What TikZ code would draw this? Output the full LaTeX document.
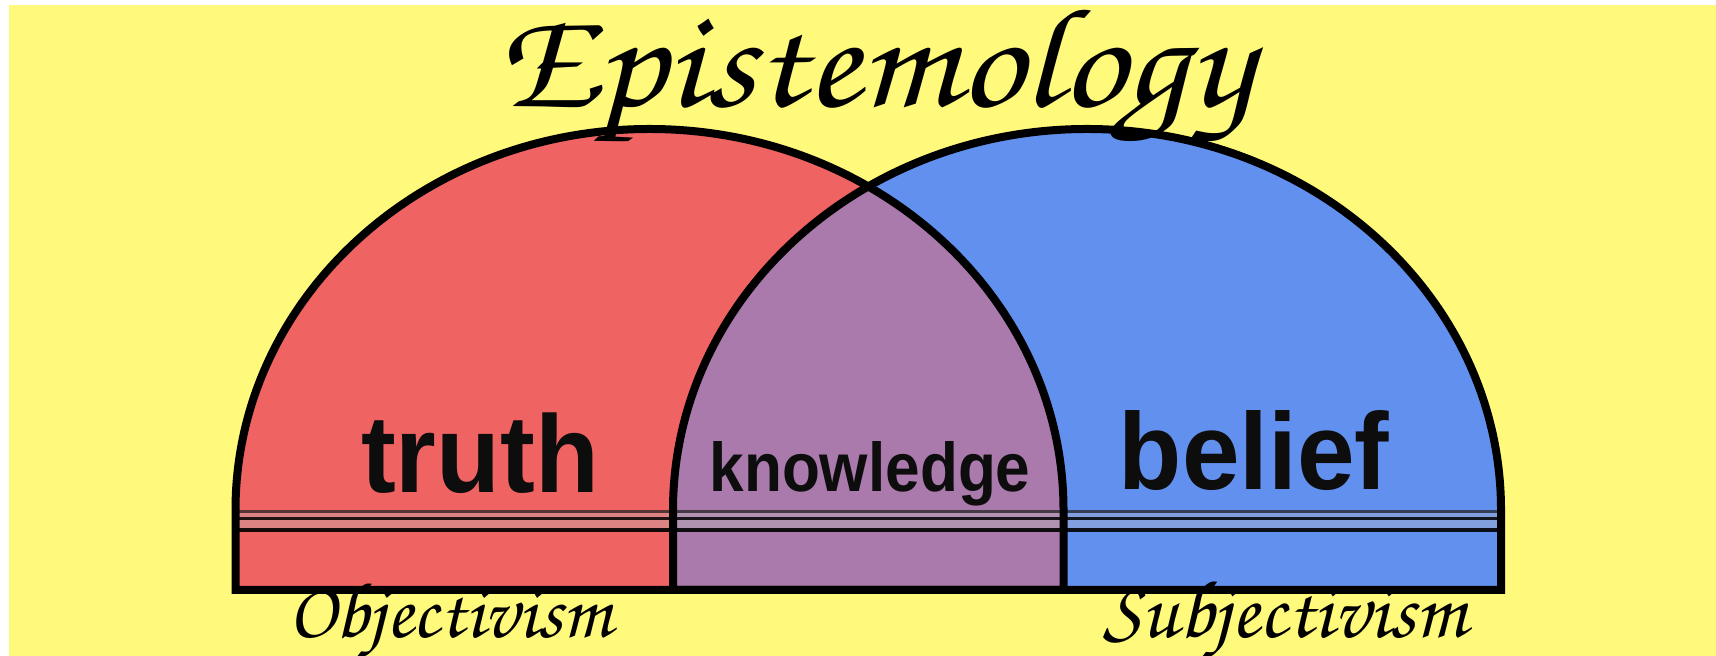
\documentclass[tikz,border=0pt]{standalone}
\usepackage[T1]{fontenc}
\usepackage{fontspec}
\newfontfamily\sansb{Liberation Sans}
\newcommand\scriptf{\fontencoding{T1}\fontfamily{pzc}\fontseries{mb}\fontshape{it}\selectfont}
\definecolor{bgy}{HTML}{FFF97C}
\definecolor{redf}{HTML}{F06363}
\definecolor{purf}{HTML}{A97AAB}
\definecolor{bluf}{HTML}{6290EE}
\begin{document}
\begin{tikzpicture}[x=0.5pt,y=0.5pt,
  outline/.style={line width=4pt,line join=miter,draw=black},
  word/.style={inner sep=0pt,anchor=base,text=black!95},
  scr/.style={inner sep=0pt,anchor=base,text=black}]
\useasboundingbox (0,0) rectangle (1716,656);
\fill[white] (0,0) rectangle (1716,656);
\fill[bgy] (9,0) rectangle (1716,651);
\def\leftarch{(235.5,66) -- (235.5,146) arc[start angle=180,end angle=0,x radius=414,y radius=381] -- (1063.5,66) -- cycle}
\def\rightarch{(673,66) -- (673,146) arc[start angle=180,end angle=0,x radius=414,y radius=381] -- (1501,66) -- cycle}
% fills
\fill[redf] \leftarch;
\fill[bluf] \rightarch;
\begin{scope}
  \clip \leftarch;
  \fill[purf] \rightarch;
\end{scope}
% stripes
\begin{scope}
  \clip (235.5,66) rectangle (1501,200);
  \fill[black!25, opacity=0.35] (235,126) rectangle (1501,146);
  \draw[black, opacity=0.6, line width=1.2pt] (235,144.5) -- (1501,144.5);
  \draw[black, opacity=0.85, line width=1.8pt] (235,137.5) -- (1501,137.5);
  \draw[black, opacity=0.9, line width=2.4pt] (235,126) -- (1501,126);
\end{scope}
% outlines
\draw[outline] \leftarch;
\draw[outline] \rightarch;
% texts
\node[word, font=\sansb\bfseries\fontsize{55}{60}\selectfont, xscale=0.95] (truth) at (480,163) {truth};
\node[word, font=\sansb\bfseries\fontsize{34.5}{40}\selectfont, xscale=0.9] (knowledge) at (870,164) {knowledge};
\node[word, font=\sansb\bfseries\fontsize{54.5}{60}\selectfont, xscale=0.95] (belief) at (1254,166) {belief};
\node[scr, font=\scriptf\fontsize{71}{80}\selectfont, xscale=1.12] (title) at (875,549) {Epistemology};
\node[scr, font=\scriptf\fontsize{39.5}{48}\selectfont] (obj) at (450,18) {Objectivism};
\node[scr, font=\scriptf\fontsize{41}{48}\selectfont] (subj) at (1285,18) {Subjectivism};
\end{tikzpicture}
\end{document}
